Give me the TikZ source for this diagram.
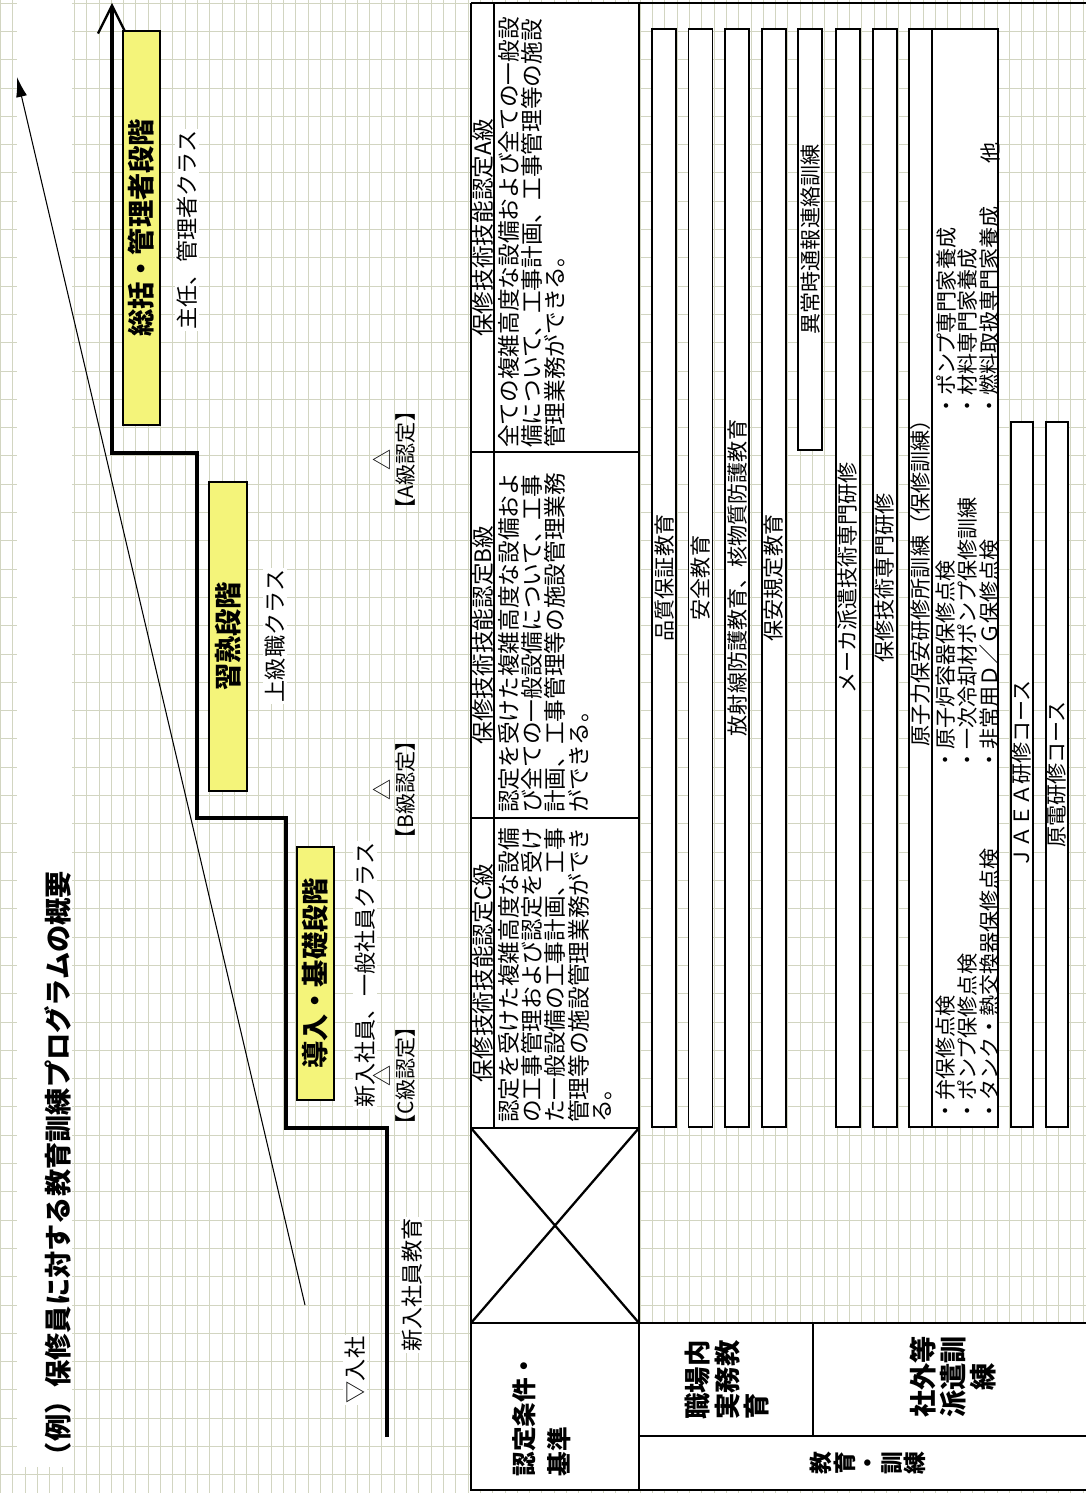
\documentclass[tikz,border=0pt]{standalone}
\usepackage{fontspec}
\setmainfont{Noto Sans CJK JP}
\usetikzlibrary{arrows.meta}
\definecolor{stageyellow}{RGB}{244,244,122}
\definecolor{gridgreen}{RGB}{210,213,193}

\begin{document}
\begin{tikzpicture}[x=0.02cm,y=-0.02cm,
        gridline/.style={gridgreen,line width=0.35pt},
        frame/.style={line width=1.3pt},
        stair/.style={line width=2.2pt,-{Straight Barb[length=5.6mm,width=5.6mm,line width=1.3pt]}},
        trend/.style={line width=0.6pt,-{Latex[length=4mm,width=2.2mm]}},
        vtext/.style={rotate=90,inner sep=1pt},
        stage/.style={vtext,draw,line width=1.1pt,fill=stageyellow,font=\fontsize{15.5}{17}\selectfont\bfseries},
        cls/.style={vtext,fill=white,font=\fontsize{12.6}{13.2}\selectfont},
        cert/.style={vtext,align=center,inner sep=0pt,font=\fontsize{12}{13}\selectfont},
        crit/.style={vtext,align=left,font=\fontsize{12.9}{13.3}\selectfont},
        bar/.style={vtext,draw,fill=white,line width=0.7pt,inner sep=0.5pt,minimum height=0.48cm,font=\fontsize{12}{12.5}\selectfont},
        items/.style={vtext,align=left,anchor=north west,font=\fontsize{12}{12.5}\selectfont}]
    \useasboundingbox (0,0) rectangle (1086,1493);
    \fill[white] (0,0) rectangle (1086,1493);
    % graph paper
    \foreach \gx in {0.5,12.8,...,1086} \draw[gridline] (\gx,0) -- (\gx,1493);
    \foreach \gy in {3,31.3,...,1493} \draw[gridline] (0,\gy) -- (1086,\gy);
    \fill[white] (17,0) rectangle (72,1467);

    \node[vtext,font=\fontsize{15.5}{17}\selectfont\bfseries] (title) at (58,1170) {（例）保修員に対する教育訓練プログラムの概要};

    % career steps
    \coordinate (stairbase) at (387,1437);
    \coordinate (stairtop) at (112,3);
    \draw[stair] (stairbase) -- (387,1128) -- (286,1128) -- (286,818) -- (197,818) -- (197,453) -- (112,453) -- (stairtop);
    \coordinate (trendstart) at (305,1305);
    \coordinate (trendend) at (17,77);
    \draw[trend] (trendstart) -- (trendend);

    \node[stage,minimum width=7.88cm,minimum height=0.74cm] (mgr) at (141.5,228) {総括・管理者段階};
    \node[stage,minimum width=6.18cm,minimum height=0.76cm] (skill) at (228,636.5) {習熟段階};
    \node[stage,minimum width=5.06cm,minimum height=0.74cm] (intro) at (315.5,973.5) {導入・基礎段階};
    \node[cls] (mgrcls) at (187,230) {主任、管理者クラス};
    \node[cls] (skillcls) at (275,636) {上級職クラス};
    \node[cls] (introcls) at (365,975) {新入社員、一般社員クラス};
    \node[cert] (certA) at (394,460) {△\\【A級認定】};
    \node[cert] (certB) at (394,790) {△\\【B級認定】};
    \node[cert] (certC) at (394,1076) {△\\【C級認定】};
    \node[cls] (join) at (355,1370) {▽入社};
    \node[cls] (newedu) at (412,1285) {新入社員教育};

    % table
    \fill[white] (471,3) rectangle (639,1490);
    \fill[white] (639,1323) rectangle (1086,1490);
    \draw[frame] (471,3) -- (1086,3);
    \draw[frame] (471,3) -- (471,1490) -- (1086,1490);
    \draw[frame] (639,3) -- (639,1490);
    \draw[frame] (494,3) -- (494,1128);
    \draw[frame] (471,452) -- (639,452) (471,818) -- (639,818) (471,1128) -- (639,1128);
    \draw[frame] (471,1323) -- (1086,1323) (639,1436) -- (1086,1436) (813,1323) -- (813,1436);
    \draw[frame] (471,1128) -- (639,1323) (471,1323) -- (639,1128);

    \node[crit] (hdrA) at (482.5,228) {保修技術技能認定A級};
    \node[crit] (hdrB) at (482.5,635) {保修技術技能認定B級};
    \node[crit] (hdrC) at (482.5,973) {保修技術技能認定C級};
    \node[crit,anchor=north west] (bodyA) at (496,450) {全ての複雑高度な設備および全ての一般設\\備について、工事計画、工事管理等の施設\\管理業務ができる。};
    \node[crit,anchor=north west] (bodyB) at (496,815) {認定を受けた複雑高度な設備およ\\び全ての一般設備について、工事\\計画、工事管理等の施設管理業務\\ができる。};
    \node[crit,anchor=north west] (bodyC) at (496,1125) {認定を受けた複雑高度な設備\\の工事管理および認定を受け\\た一般設備の工事計画、工事\\管理等の施設管理業務ができ\\る。};

    \node[bar,minimum width=21.96cm] (qa) at (664,578) {品質保証教育};
    \node[bar,minimum width=21.96cm] (safety) at (700.5,578) {安全教育};
    \node[bar,minimum width=21.96cm] (radiation) at (737,578) {放射線防護教育、核物質防護教育};
    \node[bar,minimum width=21.96cm] (rule) at (774,578) {保安規定教育};
    \node[bar,minimum width=8.42cm] (emergency) at (810,239.5) {異常時通報連絡訓練};
    \node[bar,minimum width=21.96cm] (maker) at (848,578) {メーカ派遣技術専門研修};
    \node[bar,minimum width=21.96cm] (maintspec) at (885,578) {保修技術専門研修};
    \node[bar,minimum width=21.96cm,minimum height=0.46cm] (nuclear) at (920.5,578) {原子力保安研修所訓練（保修訓練）};
    \node[bar,minimum width=21.96cm,minimum height=1.32cm] (course) at (965,578) {};
    \node[items] (valve) at (934,1124) {・弁保修点検\\・ポンプ保修点検\\・タンク・熱交換器保修点検};
    \node[items] (reactor) at (934,773) {・原子炉容器保修点検\\・一次冷却材ポンプ保修訓練\\・非常用Ｄ／Ｇ保修点検};
    \node[items] (expert) at (934,419) {・ポンプ専門家養成\\・材料専門家養成\\・燃料取扱専門家養成};
    \node[vtext,font=\fontsize{12}{12.5}\selectfont] (others) at (990,153) {他};
    \node[bar,minimum width=14.1cm,minimum height=0.44cm] (jaea) at (1022,774.5) {ＪＡＥＡ研修コース};
    \node[bar,minimum width=14.1cm,minimum height=0.44cm] (genden) at (1057,774.5) {原電研修コース};

    \node[vtext,align=left,font=\fontsize{14}{20}\selectfont\bfseries] (criteria) at (542,1415) {認定条件・\\基準};
    \node[vtext,align=left,font=\fontsize{15}{17}\selectfont\bfseries] (onjob) at (727,1380) {職場内\\実務教\\育};
    \node[vtext,align=center,font=\fontsize{15.5}{17.3}\selectfont\bfseries] (offsite) at (953,1377) {社外等\\派遣訓\\練};
    \node[vtext,align=center,font=\fontsize{13}{13.3}\selectfont\bfseries] (edutrain) at (868,1463) {教\\育\\・\\訓\\練};
\end{tikzpicture}
\end{document}
